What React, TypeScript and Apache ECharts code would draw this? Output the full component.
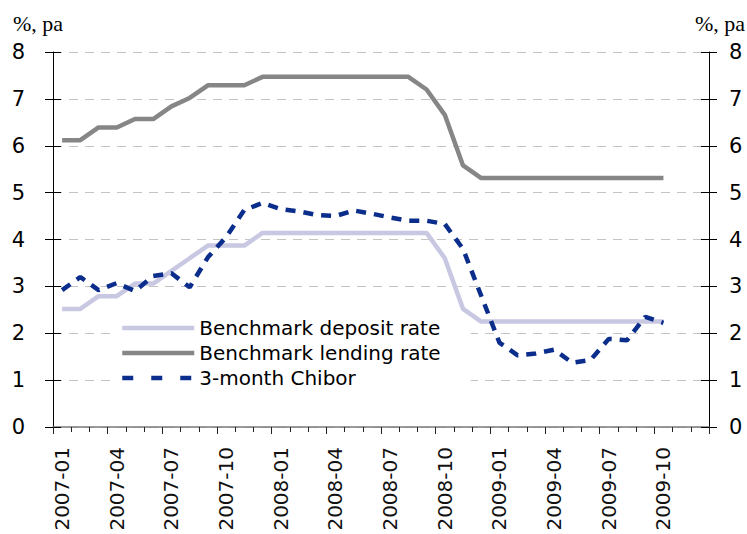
import React, { useEffect, useRef } from "react";
import * as echarts from "echarts";

const months = [
  "2007-01", "2007-02", "2007-03", "2007-04", "2007-05", "2007-06",
  "2007-07", "2007-08", "2007-09", "2007-10", "2007-11", "2007-12",
  "2008-01", "2008-02", "2008-03", "2008-04", "2008-05", "2008-06",
  "2008-07", "2008-08", "2008-09", "2008-10", "2008-11", "2008-12",
  "2009-01", "2009-02", "2009-03", "2009-04", "2009-05", "2009-06",
  "2009-07", "2009-08", "2009-09", "2009-10", "2009-11", "2009-12",
];

const depositRate = [
  2.52, 2.52, 2.79, 2.79, 3.06, 3.06, 3.33, 3.6, 3.87, 3.87, 3.87, 4.14,
  4.14, 4.14, 4.14, 4.14, 4.14, 4.14, 4.14, 4.14, 4.14, 3.6, 2.52, 2.25,
  2.25, 2.25, 2.25, 2.25, 2.25, 2.25, 2.25, 2.25, 2.25, 2.25, null, null,
];

const lendingRate = [
  6.12, 6.12, 6.39, 6.39, 6.57, 6.57, 6.84, 7.02, 7.29, 7.29, 7.29, 7.47,
  7.47, 7.47, 7.47, 7.47, 7.47, 7.47, 7.47, 7.47, 7.2, 6.66, 5.58, 5.31,
  5.31, 5.31, 5.31, 5.31, 5.31, 5.31, 5.31, 5.31, 5.31, 5.31, null, null,
];

const chibor = [
  2.92, 3.2, 2.92, 3.07, 2.9, 3.22, 3.28, 2.98, 3.62, 4.05, 4.63, 4.78,
  4.65, 4.6, 4.52, 4.5, 4.62, 4.55, 4.47, 4.4, 4.4, 4.33, 3.8, 2.8,
  1.8, 1.53, 1.57, 1.65, 1.37, 1.43, 1.88, 1.85, 2.35, 2.22, null, null,
];

const seriesNames = ["Benchmark deposit rate", "Benchmark lending rate", "3-month Chibor"];
const seriesColors = ["#c8c8e2", "#868686", "#0b2d8c"];
const unitLabel = "%, pa";

const FONT = "DejaVu Sans";
const LW = 4.5;

export default function App() {
  const ref = useRef<HTMLDivElement>(null);

  useEffect(() => {
    if (!ref.current) return;
    const chart = echarts.init(ref.current, undefined, { renderer: "svg" });

    const yBase = {
      type: "value",
      min: 0,
      max: 8,
      interval: 1,
    };

    const hiddenSymbol = { color: "rgba(0,0,0,0)", borderWidth: 0, opacity: 0 };

    chart.setOption({
      animation: false,
      backgroundColor: "#ffffff",
      grid: { left: 53, right: 38, top: 52, bottom: 107, containLabel: false },
      graphic: [
        {
          type: "text",
          x: 13,
          y: 23,
          style: {
            text: unitLabel,
            font: '22px "Liberation Serif"',
            fill: "#000",
            textAlign: "left",
            textVerticalAlign: "middle",
          },
        },
        {
          type: "text",
          x: 745,
          y: 23,
          style: {
            text: unitLabel,
            font: '22px "Liberation Serif"',
            fill: "#000",
            textAlign: "right",
            textVerticalAlign: "middle",
          },
        },
      ],
      legend: {
        orient: "vertical",
        left: 110,
        top: 305,
        z: 1,
        padding: [13, 30, 8, 10],
        backgroundColor: "#ffffff",
        itemWidth: 72,
        itemHeight: 14,
        itemGap: 5,
        itemStyle: hiddenSymbol,
        textStyle: { fontSize: 20, fontFamily: FONT, color: "#000", lineHeight: 20 },
        data: [
          {
            name: seriesNames[0],
            itemStyle: hiddenSymbol,
            lineStyle: { width: LW, color: seriesColors[0], type: "solid" },
          },
          {
            name: seriesNames[1],
            itemStyle: hiddenSymbol,
            lineStyle: { width: LW, color: seriesColors[1], type: "solid" },
          },
          {
            name: seriesNames[2],
            itemStyle: hiddenSymbol,
            lineStyle: { type: [11, 18], width: LW, color: seriesColors[2] },
          },
        ],
      },
      xAxis: [
        {
          type: "category",
          data: months,
          boundaryGap: true,
          position: "bottom",
          axisLine: { show: true, lineStyle: { color: "#7a7a7a", width: 1.5 } },
          axisTick: { show: true, interval: 2, length: 7, lineStyle: { color: "#222" } },
          axisLabel: {
            interval: 2,
            rotate: 90,
            fontSize: 20,
            fontFamily: FONT,
            color: "#111",
            margin: 20,
          },
          splitLine: { show: false },
        },
        {
          type: "category",
          data: months,
          boundaryGap: true,
          position: "bottom",
          axisLine: { show: false },
          axisTick: { show: true, interval: 0, length: 5, lineStyle: { color: "#222" } },
          axisLabel: { show: false },
          splitLine: { show: false },
        },
      ],
      yAxis: [
        {
          ...yBase,
          position: "left",
          axisLine: { show: true, lineStyle: { color: "#000", width: 1 } },
          axisTick: { show: true, length: 8, lineStyle: { color: "#000" } },
          axisLabel: { fontSize: 21, fontFamily: FONT, color: "#000", margin: 28 },
          splitLine: {
            show: true,
            lineStyle: { color: "#c4c4c4", type: [9, 7], width: 1 },
          },
        },
        {
          ...yBase,
          position: "left",
          axisLine: { show: false },
          axisTick: { show: true, inside: true, length: 8, lineStyle: { color: "#000" } },
          axisLabel: { show: false },
          splitLine: { show: false },
        },
        {
          ...yBase,
          position: "right",
          axisLine: { show: true, lineStyle: { color: "#000", width: 1 } },
          axisTick: { show: true, length: 8, lineStyle: { color: "#000" } },
          axisLabel: { fontSize: 21, fontFamily: FONT, color: "#000", margin: 20 },
          splitLine: { show: false },
        },
        {
          ...yBase,
          position: "right",
          axisLine: { show: false },
          axisTick: { show: true, inside: true, length: 8, lineStyle: { color: "#000" } },
          axisLabel: { show: false },
          splitLine: { show: false },
        },
      ],
      series: [
        {
          name: seriesNames[0],
          type: "line",
          data: depositRate,
          xAxisIndex: 0,
          yAxisIndex: 0,
          symbol: "none",
          showSymbol: false,
          lineStyle: { color: seriesColors[0], width: LW },
          itemStyle: { color: seriesColors[0] },
          z: 5,
        },
        {
          name: seriesNames[1],
          type: "line",
          data: lendingRate,
          xAxisIndex: 0,
          yAxisIndex: 0,
          symbol: "none",
          showSymbol: false,
          lineStyle: { color: seriesColors[1], width: LW },
          itemStyle: { color: seriesColors[1] },
          z: 6,
        },
        {
          name: seriesNames[2],
          type: "line",
          data: chibor,
          xAxisIndex: 0,
          yAxisIndex: 0,
          symbol: "none",
          showSymbol: false,
          lineStyle: { color: seriesColors[2], width: LW, type: [10, 8] },
          itemStyle: { color: seriesColors[2] },
          z: 7,
        },
      ],
    });

    return () => {
      chart.dispose();
    };
  }, []);

  return (
    <div
      ref={ref}
      style={{ position: "fixed", left: 0, top: 0, width: 747, height: 534, background: "#fff" }}
    />
  );
}
